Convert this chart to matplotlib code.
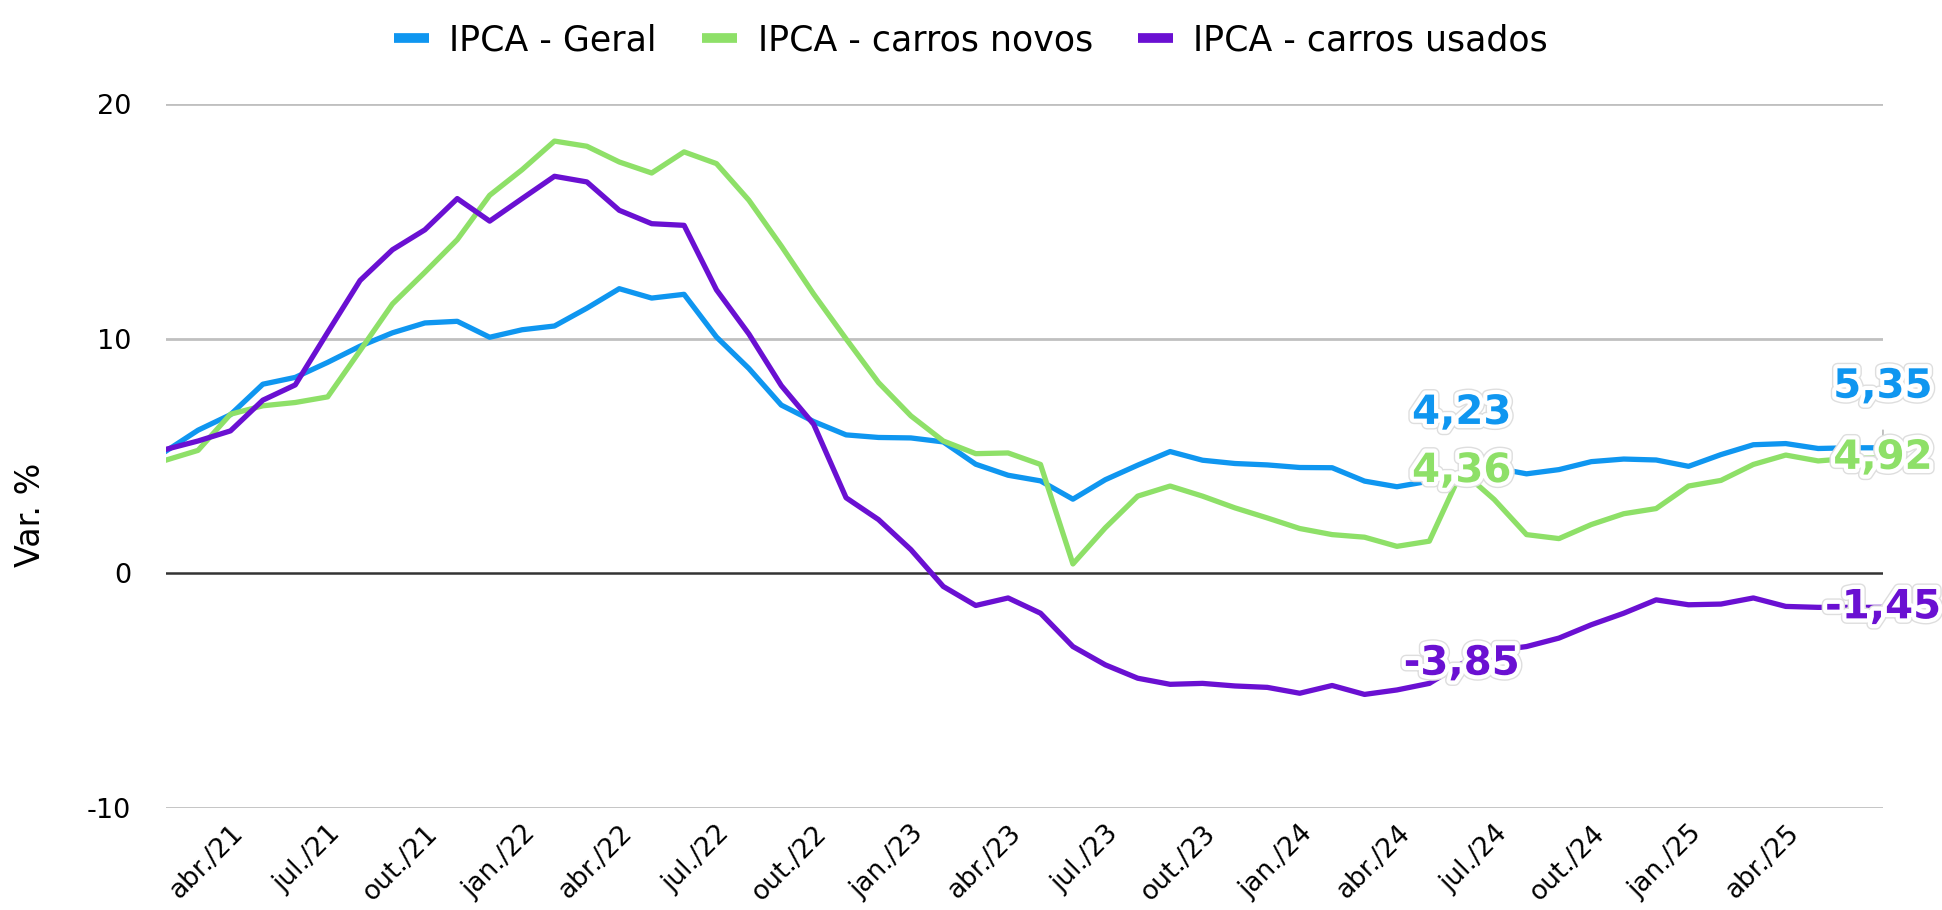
import matplotlib
matplotlib.use('Agg')
import matplotlib.pyplot as plt
import matplotlib.patheffects as pe
from matplotlib.lines import Line2D

# monthly 12-month variation, fev./21 .. jul./25
ipca_geral = [5.20, 6.10, 6.76, 8.06, 8.35, 8.99, 9.68, 10.25, 10.67, 10.74,
              10.06, 10.38, 10.54, 11.30, 12.13, 11.73, 11.89, 10.07, 8.73, 7.17,
              6.47, 5.90, 5.79, 5.77, 5.60, 4.65, 4.18, 3.94, 3.16, 3.99,
              4.61, 5.19, 4.82, 4.68, 4.62, 4.51, 4.50, 3.93, 3.69, 3.93,
              4.23, 4.50, 4.24, 4.42, 4.76, 4.87, 4.83, 4.56, 5.06, 5.48,
              5.53, 5.32, 5.35, 5.35]
carros_novos = [4.82, 5.24, 6.78, 7.14, 7.28, 7.52, 9.49, 11.48, 12.83, 14.22,
                16.11, 17.20, 18.42, 18.20, 17.53, 17.06, 17.96, 17.46, 15.90, 13.95,
                11.90, 9.99, 8.13, 6.71, 5.64, 5.10, 5.13, 4.64, 0.40, 1.94,
                3.29, 3.72, 3.29, 2.79, 2.36, 1.91, 1.65, 1.54, 1.15, 1.37,
                4.36, 3.15, 1.65, 1.48, 2.08, 2.54, 2.76, 3.72, 3.96, 4.64,
                5.04, 4.79, 4.90, 4.92]
carros_usados = [5.28, 5.64, 6.07, 7.38, 8.03, 10.27, 12.48, 13.79, 14.64, 15.97,
                 15.01, 15.97, 16.92, 16.68, 15.47, 14.90, 14.83, 12.08, 10.20, 8.00,
                 6.35, 3.22, 2.29, 1.01, -0.56, -1.37, -1.05, -1.70, -3.12, -3.90,
                 -4.47, -4.73, -4.69, -4.80, -4.86, -5.11, -4.78, -5.16, -4.97, -4.69,
                 -3.85, -3.30, -3.12, -2.76, -2.19, -1.70, -1.13, -1.34, -1.31, -1.05,
                 -1.41, -1.45, -1.45, -1.45]

tick_idx = [2, 5, 8, 11, 14, 17, 20, 23, 26, 29, 32, 35, 38, 41, 44, 47, 50]
tick_labels = ['abr./21', 'jul./21', 'out./21', 'jan./22', 'abr./22', 'jul./22',
               'out./22', 'jan./23', 'abr./23', 'jul./23', 'out./23', 'jan./24',
               'abr./24', 'jul./24', 'out./24', 'jan./25', 'abr./25']

# annotated points
marcados = [40, 53]

c_geral = '#0f96f0'
c_novos = '#8ee068'
c_usados = '#6a10d2'

fig = plt.figure(figsize=(19.42, 9.10), dpi=100)
ax = fig.add_axes([0.0853, 0.1121, 0.8843, 0.7736])

x = list(range(len(ipca_geral)))
for yv in [-10, 10, 20]:
    ax.axhline(yv, color='#c0c0c0', lw=2.0, zorder=1)
ax.axhline(0, color='#333333', lw=1.8, zorder=1)

ax.plot(x, ipca_geral, color=c_geral, lw=3.8, zorder=3)
ax.plot(x, carros_novos, color=c_novos, lw=3.8, zorder=3)
ax.plot(x, carros_usados, color=c_usados, lw=3.8, zorder=3)

ax.set_xlim(0, len(x) - 1)
ax.set_ylim(-10, 20)
ax.set_yticks([-10, 0, 10, 20])
ax.set_yticklabels(['-10', '0', '10', '20'])
ax.tick_params(axis='y', length=0, pad=25, labelsize=19.5)
ax.set_xticks(tick_idx)
ax.set_xticklabels(tick_labels, rotation=45, ha='right', rotation_mode='anchor')
ax.tick_params(axis='x', length=0, pad=9, labelsize=19)
for s in ax.spines.values():
    s.set_visible(False)
fig.text(30 / 1942, 1 - 515 / 910, 'Var. %', rotation=90, fontsize=24,
         ha='center', va='center')

halo = [pe.Stroke(linewidth=8, foreground='#dedede'),
        pe.Stroke(linewidth=6, foreground='white'), pe.Normal()]
for i in marcados:
    v = ipca_geral[i]
    ax.annotate(f'{v:.2f}'.replace('.', ','), xy=(i, v), xytext=(0, 44),
                textcoords='offset points', ha='center', va='center',
                fontsize=29, fontweight='bold', color=c_geral, path_effects=halo,
                arrowprops=dict(arrowstyle='-', color='#bdbdbd', lw=1.3,
                                shrinkA=15, shrinkB=0), zorder=5)
for i in marcados:
    v = carros_novos[i]
    ax.annotate(f'{v:.2f}'.replace('.', ','), xy=(i, v), ha='center', va='center',
                fontsize=29, fontweight='bold', color=c_novos, path_effects=halo,
                zorder=6)
for i in marcados:
    v = carros_usados[i]
    ax.annotate(f'{v:.2f}'.replace('.', ','), xy=(i, v), ha='center', va='center',
                fontsize=29, fontweight='bold', color=c_usados, path_effects=halo,
                zorder=7)

handles = [Line2D([], [], color=c, lw=7, solid_capstyle='butt')
           for c in [c_geral, c_novos, c_usados]]
fig.legend(handles, ['IPCA - Geral', 'IPCA - carros novos', 'IPCA - carros usados'],
           loc='center', bbox_to_anchor=(0.5, 0.956), ncol=3, frameon=False,
           fontsize=25, handlelength=1.0, handletextpad=0.6, columnspacing=1.3)

fig.savefig('out.png', dpi=100)
